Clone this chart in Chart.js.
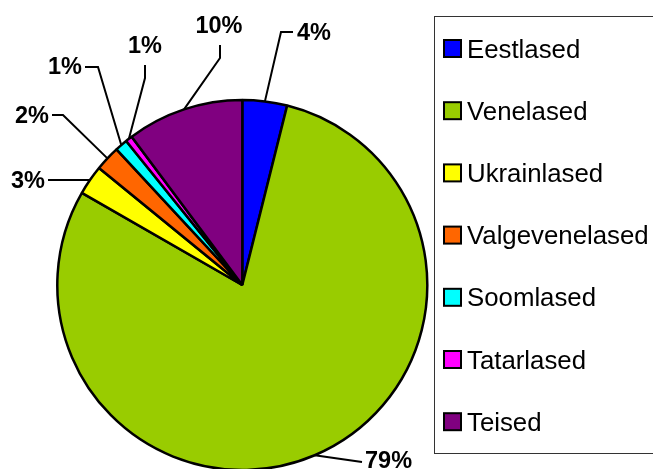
<!DOCTYPE html>
<html>
<head>
<meta charset="utf-8">
<script src="https://cdn.jsdelivr.net/npm/chart.js@4"></script>
<style>
  body { margin: 0; background: #fff; }
  #wrap { width: 653px; height: 469px; }
</style>
</head>
<body>
<div id="wrap"><canvas id="myChart" width="653" height="469"></canvas></div>
<script>
// Rahvuslik koosseis (osakaal, %)
const rahvused = ['Eestlased', 'Venelased', 'Ukrainlased', 'Valgevenelased', 'Soomlased', 'Tatarlased', 'Teised']
const osakaal = [3.9, 79.4, 2.6, 2.2, 1.1, 0.6, 10.2]
const varvid = ['#0000FF', '#99CC00', '#FFFF00', '#FF6600', '#00FFFF', '#FF00FF', '#800080']

// where each % label sits, relative to pie centre (leader line goes arc edge -> path points)
const labelSpots = [
  { path: [[38.7, -253], [50.7, -253]], text: [54.7, -245.5], align: 'left' },
  { path: [[119.7, 177]], text: [122.7, 183], align: 'left' },
  { path: [[-194.3, -105]], text: [-197.3, -97], align: 'right' },
  { path: [[-179.3, -170], [-190.3, -170]], text: [-193.3, -162], align: 'right' },
  { path: [[-144.3, -218], [-157.3, -218]], text: [-160.3, -211], align: 'right' },
  { path: [[-97.3, -207], [-97.3, -220]], text: [-97.3, -232], align: 'center' },
  { path: [[-22.3, -227], [-22.3, -240]], text: [-23.3, -252.3], align: 'center' }
]

const FONT = '"Liberation Sans", Arial, sans-serif'

const pctLabels = {
  id: 'pctLabels',
  afterDatasetsDraw(chart) {
    const ctx = chart.ctx
    const arcs = chart.getDatasetMeta(0).data
    const total = osakaal.reduce((a, b) => a + b, 0)
    ctx.save()
    ctx.strokeStyle = '#000'
    ctx.lineWidth = 2
    ctx.fillStyle = '#000'
    ctx.font = 'bold 23.5px ' + FONT
    ctx.textBaseline = 'alphabetic'
    arcs.forEach((arc, i) => {
      const p = arc.getProps(['x', 'y', 'startAngle', 'endAngle', 'outerRadius'], true)
      const mid = (p.startAngle + p.endAngle) / 2
      const s = labelSpots[i]
      ctx.beginPath()
      ctx.moveTo(p.x + Math.cos(mid) * p.outerRadius, p.y + Math.sin(mid) * p.outerRadius)
      s.path.forEach(([dx, dy]) => ctx.lineTo(p.x + dx, p.y + dy))
      ctx.stroke()
      ctx.textAlign = s.align
      ctx.fillText(Math.round(osakaal[i] / total * 100) + '%', p.x + s.text[0], p.y + s.text[1])
    })
    ctx.restore()
  }
}

// boxed legend on the right, like the original
const boxLegend = {
  id: 'boxLegend',
  afterDraw(chart) {
    const ctx = chart.ctx
    const ds = chart.data.datasets[0]
    ctx.save()
    ctx.strokeStyle = '#333'
    ctx.lineWidth = 1
    ctx.strokeRect(434.5, 16.5, 240, 437)
    ctx.font = '25.8px ' + FONT
    ctx.textAlign = 'left'
    ctx.textBaseline = 'alphabetic'
    chart.data.labels.forEach((lab, i) => {
      const cy = 48.5 + i * 62.2
      ctx.fillStyle = ds.backgroundColor[i]
      ctx.fillRect(444, cy - 8.5, 17, 17)
      ctx.strokeStyle = '#000'
      ctx.lineWidth = 2
      ctx.strokeRect(444, cy - 8.5, 17, 17)
      ctx.fillStyle = '#000'
      ctx.fillText(lab, 467, cy + 9)
    })
    ctx.restore()
  }
}

const ctx = document.getElementById('myChart')

new Chart(ctx, {
  type: 'pie',
  data: {
    labels: rahvused,
    datasets: [{
      data: osakaal,
      backgroundColor: varvid,
      borderColor: '#000',
      borderWidth: 2.5
    }]
  },
  options: {
    responsive: false,
    animation: false,
    radius: 185,
    layout: { padding: { left: 57, right: 225.4, top: 101, bottom: 0 } },
    plugins: {
      legend: { display: false },
      tooltip: { enabled: false }
    }
  },
  plugins: [pctLabels, boxLegend]
})
</script>
</body>
</html>
